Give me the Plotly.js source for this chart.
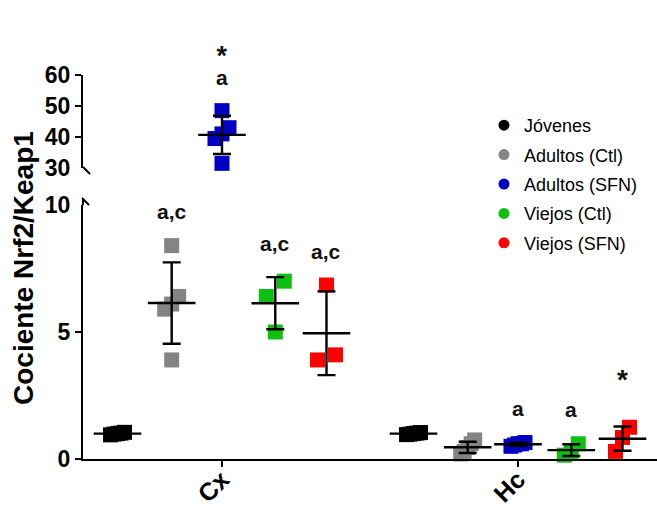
<!DOCTYPE html>
<html>
<head>
<meta charset="utf-8">
<script src="https://cdn.plot.ly/plotly-3.0.1.min.js"></script>
<style>
  html, body { margin: 0; padding: 0; background: #fff; }
  #chart { width: 657px; height: 514px; }
</style>
</head>
<body>
<div id="chart"></div>
<script>
// Brain regions on the x axis
const categories = ['Cx', 'Hc'];

// Experimental groups
const seriesNames = ['Jóvenes', 'Adultos (Ctl)', 'Adultos (SFN)', 'Viejos (Ctl)', 'Viejos (SFN)'];
const seriesColors = ['#000000', '#848484', '#0000c4', '#10c010', '#ff0000'];

// Nrf2/Keap1 ratio, individual animals, cortex (Cx)
const jovenesCx = [1.0, 1.05, 0.95, 1.02, 0.98];
const adultosCtlCx = [8.4, 6.4, 6.1, 5.9, 3.9];
const adultosSfnCx = [48.5, 43, 41, 39.5, 31.5];
const viejosCtlCx = [7.0, 6.4, 5.0];
const viejosSfnCx = [6.85, 4.1, 3.9];

// Nrf2/Keap1 ratio, individual animals, hippocampus (Hc)
const jovenesHc = [1.0, 1.04, 0.96, 1.02, 0.98];
const adultosCtlHc = [0.75, 0.6, 0.45, 0.3, 0.2];
const adultosSfnHc = [0.65, 0.6, 0.55, 0.5, 0.6];
const viejosCtlHc = [0.6, 0.3, 0.15];
const viejosSfnHc = [1.25, 0.85, 0.3];

// Significance letters and stars per group
const sigCx = ['', 'a,c', 'a', 'a,c', 'a,c'];
const sigHc = ['', '', 'a', 'a', ''];
const starCx = ['', '', '*', '', ''];
const starHc = ['', '', '', '', '*'];

// y-axis labels on each side of the break; tick marks skip the broken ends
const lowerTicks = [0, 5, 10];
const upperTicks = [30, 40, 50, 60];
const lowerTickMarks = [0, 5];
const upperTickMarks = [40, 50, 60];

const valuesByCategory = [
  [jovenesCx, adultosCtlCx, adultosSfnCx, viejosCtlCx, viejosSfnCx],
  [jovenesHc, adultosCtlHc, adultosSfnHc, viejosCtlHc, viejosSfnHc]
];
const sigByCategory = [sigCx, sigHc];
const starByCategory = [starCx, starHc];

// ---- geometry ----
const W = 657, H = 514;
const M = { l: 83, r: 0, t: 0, b: 55 };
const plotW = W - M.l - M.r, plotH = H - M.t - M.b;
const xRange = [-0.4696, 1.4696];
const pxX = plotW / (xRange[1] - xRange[0]);
const groupOffset = [-0.353, -0.17, 0, 0.18, 0.353];
const lowerTopPx = 205, upperBottomPx = 168, upperTopPx = 75;
const lowerDomain = [0, (plotH - lowerTopPx) / plotH];
const upperDomain = [(plotH - upperBottomPx) / plotH, (plotH - upperTopPx) / plotH];
const lowerRange = [0, 10], upperRange = [30, 60];
const pxLower = (plotH - lowerTopPx) / (lowerRange[1] - lowerRange[0]);
const pxUpper = (upperBottomPx - upperTopPx) / (upperRange[1] - upperRange[0]);
const BREAK = lowerRange[1];

function mean(a) { return a.reduce((s, v) => s + v, 0) / a.length; }
function sd(a) {
  const m = mean(a);
  return Math.sqrt(a.reduce((s, v) => s + (v - m) * (v - m), 0) / (a.length - 1));
}

// Spread overlapping points sideways (pixel offsets), scatter-dot-plot style
function spread(vals, pxPerUnit) {
  const idx = vals.map((v, i) => i).sort((a, b) => vals[a] - vals[b]);
  const off = new Array(vals.length).fill(0);
  let cluster = [idx[0]];
  const flush = () => {
    const n = cluster.length;
    if (n > 1) {
      const half = n === 2 ? 9 : 7;
      cluster.forEach((k, j) => { off[k] = -half + 2 * half * j / (n - 1); });
    }
  };
  for (let i = 1; i < idx.length; i++) {
    if ((vals[idx[i]] - vals[idx[i - 1]]) * pxPerUnit < 16) cluster.push(idx[i]);
    else { flush(); cluster = [idx[i]]; }
  }
  flush();
  return off;
}

const traces = [];
const annotations = [];
const letterStyle = 'font-size:21px;font-weight:bold';
const starStyle = 'font-size:27px;font-weight:bold';

valuesByCategory.forEach((seriesVals, c) => {
  seriesVals.forEach((vals, s) => {
    const m = mean(vals), e = sd(vals);
    const upper = m > BREAK;
    const yref = upper ? 'y2' : 'y';
    const pxY = upper ? pxUpper : pxLower;
    const off = spread(vals, pxY);
    const xc = c + groupOffset[s];

    traces.push({
      type: 'scatter', mode: 'markers',
      x: vals.map((v, i) => xc + off[i] / pxX), y: vals,
      yaxis: yref, showlegend: false, hoverinfo: 'y', cliponaxis: false,
      marker: { symbol: 'square', size: 15, color: seriesColors[s] }
    });
    traces.push({
      type: 'scatter', mode: 'markers',
      x: [xc], y: [m], yaxis: yref, showlegend: false, hoverinfo: 'y', cliponaxis: false,
      marker: { symbol: 'line-ew', size: 34, color: '#000', line: { width: 2.4, color: '#000' } },
      error_y: { type: 'data', array: [e], visible: true, color: '#000', thickness: 2.4, width: 9 }
    });

    const top = Math.max(Math.max(...vals), m + e);
    const sig = sigByCategory[c][s], star = starByCategory[c][s];
    if (sig && star) {
      // star stacked tightly over the letter in one text block
      annotations.push({
        x: xc, y: top, xref: 'x', yref: yref, yshift: 20, showarrow: false,
        text: '<span style="' + starStyle + '">' + star + '</span><br>' +
              '<span style="' + letterStyle + '">' + sig + '</span>',
        xanchor: 'center', yanchor: 'bottom',
        font: { size: 15, color: '#111' }
      });
    } else if (sig) {
      annotations.push({
        x: xc, y: top, xref: 'x', yref: yref, yshift: 34, showarrow: false,
        text: sig, xanchor: 'center', yanchor: 'middle',
        font: { size: 21, weight: 'bold', color: '#111' }
      });
    } else if (star) {
      annotations.push({
        x: xc, y: top, xref: 'x', yref: yref, yshift: 47, showarrow: false,
        text: star, xanchor: 'center', yanchor: 'middle',
        font: { size: 28, weight: 'bold', color: '#111' }
      });
    }
  });
});

// Legend entries (round symbols)
seriesNames.forEach((name, s) => {
  traces.push({
    type: 'scatter', mode: 'markers', x: [null], y: [null], name: name,
    legendgroup: 'g' + s, showlegend: true,
    marker: { symbol: 'circle', size: 11, color: seriesColors[s] }
  });
});

// y-axis title centred on the whole broken axis
annotations.push({
  xref: 'paper', yref: 'paper', x: (23 - M.l) / plotW, y: (plotH - 268) / plotH,
  text: 'Cociente Nrf2/Keap1', textangle: -90, showarrow: false,
  xanchor: 'center', yanchor: 'middle',
  font: { size: 28, weight: 'bold', color: '#000' }
});

const axisStyle = {
  showline: true, linewidth: 2, linecolor: '#000',
  ticks: 'outside', ticklen: 6, tickwidth: 2, tickcolor: '#000',
  showgrid: false, zeroline: false, fixedrange: true,
  tickfont: { size: 23, weight: 'bold', color: '#000' }
};

// Convert plot-area pixels into paper coordinates for the break marks
const px2paperX = px => px / plotW;
const px2paperY = py => (plotH - py) / plotH;
const breakLine = { width: 2, color: '#000' };
function seg(x0, y0, x1, y1) {
  return { type: 'line', xref: 'paper', yref: 'paper',
    x0: px2paperX(x0), y0: px2paperY(y0), x1: px2paperX(x1), y1: px2paperY(y1), line: breakLine };
}
const shapes = [
  // slanted end at the bottom of the upper segment
  seg(0, upperBottomPx - 1, 7, upperBottomPx + 6),
  // hooked end at the top of the lower segment
  seg(0, lowerTopPx, 0, lowerTopPx - 6),
  seg(-1, lowerTopPx - 7, 6, lowerTopPx)
];

const layout = {
  width: W, height: H, margin: M,
  paper_bgcolor: '#fff', plot_bgcolor: '#fff',
  font: { family: 'Arial, "Liberation Sans", sans-serif', color: '#000' },
  showlegend: true,
  legend: {
    x: (484 - M.l) / plotW, y: 1 - 107 / plotH, xanchor: 'left', yanchor: 'top',
    font: { size: 18, color: '#000' }, tracegroupgap: 3, bgcolor: 'rgba(0,0,0,0)',
    traceorder: 'grouped'
  },
  xaxis: Object.assign({}, axisStyle, {
    range: xRange, tickvals: [0, 1], ticktext: categories, tickangle: -45,
    anchor: 'y', ticklabelstandoff: -12,
    tickfont: { size: 25, weight: 'bold', color: '#000' }
  }),
  yaxis: Object.assign({}, axisStyle, {
    domain: lowerDomain, range: lowerRange, tickvals: lowerTicks, anchor: 'x',
    tickcolor: 'rgba(0,0,0,0)',
    minor: { tickvals: lowerTickMarks, ticks: 'outside', ticklen: 6, tickwidth: 2, tickcolor: '#000', showgrid: false }
  }),
  yaxis2: Object.assign({}, axisStyle, {
    domain: upperDomain, range: upperRange, tickvals: upperTicks, anchor: 'x',
    tickcolor: 'rgba(0,0,0,0)',
    minor: { tickvals: upperTickMarks, ticks: 'outside', ticklen: 6, tickwidth: 2, tickcolor: '#000', showgrid: false }
  }),
  annotations: annotations,
  shapes: shapes
};

Plotly.newPlot('chart', traces, layout, { displayModeBar: false, staticPlot: true });
</script>
</body>
</html>
